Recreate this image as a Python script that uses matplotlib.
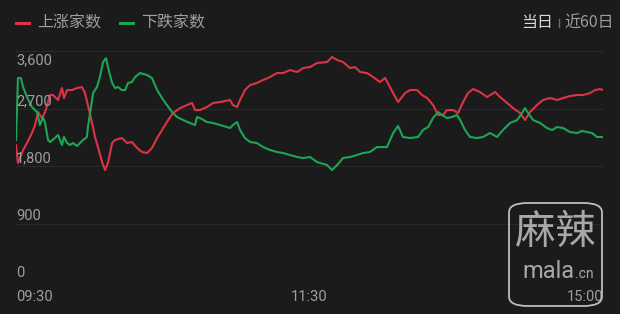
import matplotlib.pyplot as plt
from matplotlib.patches import FancyBboxPatch

# minutes since 09:30 (continuous trading minutes, 0..240)
up_minutes = [0, 0.8, 1.6, 2.9, 4.5, 6.5, 7.8, 9, 10.6, 11.9, 13.9, 15.1, 17.2, 18.8, 19.6,
              20.9, 22.9, 24.9, 27, 28.2, 29.4, 31.1, 32.3, 33.5, 35.2, 36.4, 37.6, 39.3,
              40.5, 43.3, 45.4, 47.4, 49.5, 51.5, 53.6, 55.6, 57.7, 59.7, 62.2, 64.2, 67.1,
              69.9, 72, 73.2, 75.2, 78.1, 80.6, 83.4, 87.5, 88.7, 90.4, 91.6, 93.6, 95.7,
              98.5, 101, 103.9, 106.7, 109.2, 112, 114.9, 117.4, 120.2, 123.1, 127.2, 129.2,
              131.3, 133.7, 136.6, 138.6, 140.7, 143.5, 146, 148.8, 150.9, 152.9, 154.2,
              156.2, 159.1, 161.1, 164, 166, 168.1, 170.5, 172.6, 174.6, 176.2, 178.7,
              180.7, 182.8, 184.8, 186.9, 189.7, 192.6, 195.9, 197.9, 200.8, 203.2, 206.1,
              208.1, 210.2, 213, 215.5, 218.4, 221.2, 223.7, 226.5, 229.4, 231.8, 234.7,
              236.8, 238.8, 240]
up_counts = [2128, 1847, 1925, 2050, 2160, 2316, 2441, 2645, 2551, 2645, 2911, 2911, 2833,
             3020, 2864, 2989, 2989, 3020, 3036, 2942, 2754, 2473, 2254, 2097, 1862, 1737,
             1847, 2160, 2207, 2238, 2160, 2175, 2082, 2019, 2003, 2082, 2238, 2363, 2520,
             2629, 2707, 2754, 2786, 2676, 2676, 2723, 2786, 2801, 2833, 2754, 2723, 2833,
             2989, 3067, 3099, 3146, 3193, 3255, 3255, 3302, 3271, 3333, 3349, 3412, 3427,
             3506, 3459, 3427, 3333, 3349, 3271, 3255, 3193, 3114, 3177, 3036, 2942, 2801,
             2942, 2989, 2989, 2911, 2864, 2754, 2598, 2598, 2676, 2676, 2629, 2801, 2942,
             3005, 2958, 2880, 2958, 2880, 2786, 2707, 2629, 2520, 2645, 2754, 2833, 2864,
             2833, 2864, 2895, 2911, 2911, 2942, 2989, 3005, 2989]

down_minutes = [0, 0.8, 2, 2.9, 4.5, 6.5, 8.6, 9.8, 11, 11.9, 13.1, 13.9, 15.9, 17.2, 18.8,
                19.6, 20.9, 22.1, 23.3, 24.9, 26.2, 27.4, 29, 29.4, 30.3, 31.5, 33.1, 34.3,
                35.6, 36.8, 37.6, 39.3, 40.5, 41.7, 43.3, 44.6, 45.8, 47.4, 48.7, 50.7, 53.6,
                55.6, 57.7, 59.7, 61.7, 63.8, 65.8, 68.3, 71.1, 73.2, 74, 75.2, 78.1, 80.6,
                83.4, 86.3, 87.5, 88.7, 90.4, 91.6, 93.6, 95.7, 98.5, 101, 103.9, 106.7,
                109.2, 112, 114.9, 117.4, 120.2, 123.1, 127.2, 129.2, 131.3, 133.7, 136.6,
                139.4, 141.9, 144.7, 147.6, 149.7, 151.7, 154.2, 156.2, 158.2, 161.1, 164.4,
                166.4, 168.5, 170.5, 172.6, 174.2, 176.2, 178.3, 180.3, 181.6, 183.6, 185.6,
                188.5, 191, 193.8, 196.7, 199.1, 202, 204.9, 206.9, 208.1, 209.4, 211.4,
                214.3, 217.1, 219.2, 221.2, 223.7, 226.5, 229.4, 231.4, 233.5, 235.5, 237.5,
                240]
down_counts = [2207, 3177, 3177, 3036, 2880, 2723, 2645, 2441, 2567, 2473, 2207, 2175, 2238,
               2285, 2128, 2254, 2160, 2128, 2160, 2113, 2160, 2207, 2254, 2410, 2629, 2942,
               3036, 3193, 3427, 3490, 3349, 3099, 3020, 3036, 2989, 2989, 3099, 3114, 3193,
               3255, 3224, 3177, 2989, 2864, 2754, 2645, 2567, 2520, 2473, 2441, 2567, 2551,
               2488, 2473, 2441, 2410, 2394, 2441, 2488, 2363, 2238, 2175, 2160, 2097, 2050,
               2019, 2003, 1972, 1941, 1925, 1941, 1862, 1815, 1737, 1815, 1925, 1941, 1972,
               2003, 2019, 2097, 2097, 2097, 2316, 2426, 2254, 2238, 2254, 2363, 2410, 2551,
               2645, 2598, 2551, 2567, 2598, 2520, 2363, 2254, 2238, 2254, 2316, 2254, 2363,
               2473, 2520, 2629, 2707, 2629, 2520, 2473, 2394, 2363, 2410, 2394, 2332, 2316,
               2348, 2332, 2316, 2254, 2254]

y_ticks = [0, 900, 1800, 2700, 3600]
y_labels = ["0", "900", "1,800", "2,700", "3,600"]
x_ticks = [0, 120, 240]
x_labels = ["09:30", "11:30", "15:00"]

BG = "#1b1b1b"
RED = "#dc3445"
GREEN = "#1fa456"
TXT = "#9e9e9e"
NUM_FONT = ["Roboto", "DejaVu Sans"]
CJK_FONT = ["Noto Sans CJK SC", "DejaVu Sans"]

fig = plt.figure(figsize=(6.2, 3.14), dpi=100, facecolor=BG)
ax = fig.add_axes([16 / 620, 33 / 314, 587 / 620, 230 / 314])
ax.set_facecolor(BG)

for v in y_ticks:
    ax.axhline(v, color="#2a2a2a", lw=0.8, zorder=0)

ax.plot(up_minutes, up_counts, color=RED, lw=1.5, solid_joinstyle="round")
ax.plot(down_minutes, down_counts, color=GREEN, lw=1.5, solid_joinstyle="round")

ax.set_xlim(0, 240)
ax.set_ylim(0, 3600)
ax.set_xticks([])
ax.set_yticks([])
for s in ax.spines.values():
    s.set_visible(False)

# y labels sit just above their grid line (top one just below)
for v, lab in zip(y_ticks, y_labels):
    if v == 3600:
        ax.annotate(lab, (0, v), xytext=(0, -1.5), textcoords="offset points",
                    ha="left", va="top", color=TXT, fontsize=10.5, family=NUM_FONT)
    else:
        ax.annotate(lab, (0, v), xytext=(0, 0.5), textcoords="offset points",
                    ha="left", va="bottom", color=TXT, fontsize=10.5, family=NUM_FONT)

for t, lab in zip(x_ticks, x_labels):
    ha = {0: "left", 120: "center", 240: "right"}[t]
    ax.annotate(lab, (t, 0), xytext=(0, -6.5), textcoords="offset points",
                ha=ha, va="top", color=TXT, fontsize=10.5, family=NUM_FONT)

# legend row
fig.add_artist(plt.Line2D([16 / 620, 29 / 620], [291 / 314, 291 / 314], color=RED, lw=2.2))
fig.text(37 / 620, 291 / 314, "上涨家数", color=TXT, fontsize=11.5, family=CJK_FONT,
         va="center", ha="left")
fig.add_artist(plt.Line2D([120 / 620, 133 / 620], [291 / 314, 291 / 314], color=GREEN, lw=2.2))
fig.text(141 / 620, 291 / 314, "下跌家数", color=TXT, fontsize=11.5, family=CJK_FONT,
         va="center", ha="left")

fig.text(553 / 620, 291 / 314, "当日", color="#d8d8d8", fontsize=11.5, family=CJK_FONT,
         va="center", ha="right")
fig.add_artist(plt.Line2D([558.5 / 620, 558.5 / 620], [287 / 314, 295 / 314],
                          color="#6a6a6a", lw=1.0))
fig.text(564 / 620, 291 / 314, "近60日", color=TXT, fontsize=11.5, family=CJK_FONT,
         va="center", ha="left")

# watermark
box = FancyBboxPatch((509 / 620, 8 / 314), 93 / 620, 103 / 314,
                     boxstyle="round,pad=0,rounding_size=0.03", transform=fig.transFigure,
                     fill=False, edgecolor="#bdbdbd", lw=1.3)
fig.add_artist(box)
fig.text(555 / 620, 82 / 314, "麻辣", color="#a8a8a8", fontsize=29, family=CJK_FONT,
         va="center", ha="center")
fig.text(574 / 620, 42 / 314, "mala", color="#a8a8a8", fontsize=17, family=NUM_FONT,
         va="center", ha="right")
fig.text(575 / 620, 40 / 314, ".cn", color="#a8a8a8", fontsize=10, family=NUM_FONT,
         va="center", ha="left")

fig.savefig("out.png", dpi=100, facecolor=BG)
